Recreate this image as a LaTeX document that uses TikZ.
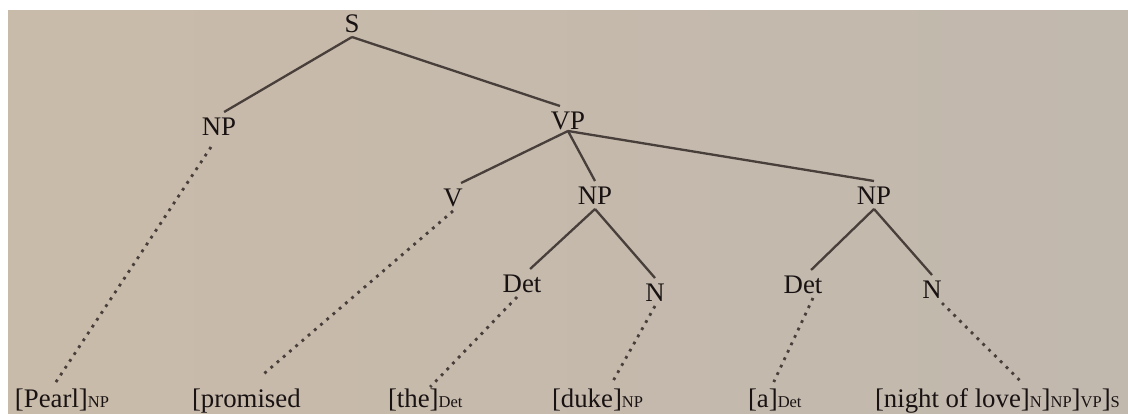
\documentclass[tikz,border=0pt]{standalone}
\usepackage{fontspec}
\setmainfont{Liberation Serif}
\definecolor{paperL}{RGB}{201,187,170}
\definecolor{paperR}{RGB}{193,184,174}
\definecolor{ink}{RGB}{24,18,18}
\definecolor{branch}{RGB}{72,62,58}
\newcommand{\sbs}[1]{{\fontsize{16.5}{18}\selectfont #1}}
\begin{document}
\begin{tikzpicture}[x=1pt,y=-1pt,
  lbl/.style={font=\fontsize{26.8}{30}\selectfont, text=ink, inner sep=0pt, outer sep=5pt, text height=18pt, text depth=0pt, anchor=base},
  word/.style={lbl, anchor=base west},
  branchline/.style={draw=branch, line width=2.3pt},
  leafline/.style={draw=branch, line width=2.8pt, dash pattern=on 2.8pt off 5.4pt}]
\useasboundingbox (0,0) rectangle (1128,413);
\fill[white] (0,0) rectangle (1128,413);
\shade[left color=paperL, right color=paperR] (8,10) rectangle (1128,413);
% tree labels
\node[lbl] (S) at (352,32) {S};
\node[lbl] (NPs) at (219,135) {NP};
\node[lbl] (VP) at (568,129) {VP};
\node[lbl] (V) at (453,206) {V};
\node[lbl] (NPa) at (595,204) {NP};
\node[lbl] (NPb) at (874,204) {NP};
\node[lbl] (Deta) at (522,292) {Det};
\node[lbl] (Na) at (655,301) {N};
\node[lbl] (Detb) at (803,293) {Det};
\node[lbl] (Nb) at (932,298) {N};
% bracketed words
\node[word] (w1) at (10,407) {[Pearl]\sbs{NP}};
\node[word] (w2) at (187,407) {[promised};
\node[word] (w3) at (383,407) {[the]\sbs{Det}};
\node[word] (w4) at (547,407) {[duke]\sbs{NP}};
\node[word] (w5) at (743,407) {[a]\sbs{Det}};
\node[word] (w6) at (870,407) {[night of love]\sbs{N}]\sbs{NP}]\sbs{VP}]\sbs{S}};
% branches
\draw[branchline] (S.south) -- (NPs.70);
\draw[branchline] (S.south) -- (VP.120);
\draw[branchline] ([shift={(0,-3)}]VP.south) -- (V.60);
\draw[branchline] ([shift={(0,-3)}]VP.south) -- (NPa.north);
\draw[branchline] ([shift={(0,-3)}]VP.south) -- (NPb.north);
\draw[branchline] (NPa.south) -- (Deta.60);
\draw[branchline] (NPa.south) -- (Na.north);
\draw[branchline] (NPb.south) -- (Detb.60);
\draw[branchline] (NPb.south) -- (Nb.north);
% leaf connections
\draw[leafline] ([shift={(-8,7)}]NPs.south) -- ([shift={(-8,1)}]w1.north);
\draw[leafline] (V.south) -- ([shift={(15,-8)}]w2.north);
\draw[leafline] ([shift={(-5,0)}]Deta.south) -- ([shift={(5,3)}]w3.north);
\draw[leafline] (Na.south) -- ([shift={(15,-2)}]w4.north);
\draw[leafline] ([shift={(10,0)}]Detb.south) -- ([shift={(-1,-2)}]w5.north);
\draw[leafline] ([shift={(10,0)}]Nb.south) -- ([shift={(25,-1)}]w6.north);
\end{tikzpicture}
\end{document}
